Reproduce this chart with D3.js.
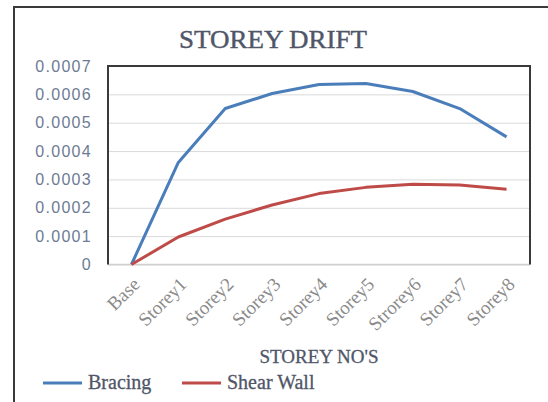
<!DOCTYPE html>
<html>
<head>
<meta charset="utf-8">
<script src="https://cdn.jsdelivr.net/npm/d3@7"></script>
<style>
body { margin: 0; background: #fff; }
svg { display: block; }
</style>
</head>
<body>
<svg id="chart" width="548" height="402"></svg>
<script>
// data
var storeys = ["Base", "Storey1", "Storey2", "Storey3", "Storey4", "Storey5", "Strorey6", "Storey7", "Storey8"];
var bracing = [0, 0.00036, 0.00055, 0.000603, 0.000635, 0.000638, 0.00061, 0.00055, 0.00045];
var shearWall = [0, 0.000097, 0.00016, 0.00021, 0.00025, 0.000272, 0.000283, 0.00028, 0.000265];
var yTicks = [0, 0.0001, 0.0002, 0.0003, 0.0004, 0.0005, 0.0006, 0.0007];

function DrawChart(){
	var svg = d3.select("#chart");
	var pLeft = 108, pRight = 530, pTop = 66, pBottom = 264.5;

	var x = d3.scalePoint().domain(storeys).range([pLeft, pRight]).padding(0.5);
	var y = d3.scaleLinear().domain([0, 0.0007]).range([pBottom, pTop]);

	// outer chart border (runs off the right and bottom)
	svg.append("rect").attr("x", 14).attr("y", 7).attr("width", 600).attr("height", 500)
		.attr("fill", "none").attr("stroke", "#3a3a3a").attr("stroke-width", 2);

	// title
	svg.append("text").attr("x", 273).attr("y", 48).attr("text-anchor", "middle")
		.attr("font-family", "Liberation Serif").attr("font-size", 25).attr("fill", "#4f5668")
		.attr("stroke", "#4f5668").attr("stroke-width", 0.4)
		.attr("textLength", 188).attr("lengthAdjust", "spacingAndGlyphs")
		.text("STOREY DRIFT");

	// gridlines + y labels
	var yAxis = d3.axisLeft(y).tickValues(yTicks).tickSize(-(pRight - pLeft)).tickPadding(16)
		.tickFormat(function(d){ return d === 0 ? "0" : d3.format(".4f")(d); });
	var gy = svg.append("g").attr("transform", "translate(" + pLeft + ",0)").call(yAxis);
	gy.select(".domain").remove();
	gy.selectAll(".tick line").attr("stroke", "#d9d9d9").attr("stroke-width", 1);
	gy.selectAll(".tick text").attr("font-family", "Liberation Sans").attr("font-size", 16)
		.attr("letter-spacing", 1.3).attr("fill", "#6d7b94");

	// plot frame: dark left/top/right, light baseline
	svg.append("line").attr("x1", pLeft).attr("x2", pRight).attr("y1", pBottom).attr("y2", pBottom)
		.attr("stroke", "#d0d0d0").attr("stroke-width", 1.5);
	svg.append("path").attr("d", "M" + pLeft + "," + pBottom + "V" + pTop + "H" + pRight + "V" + pBottom)
		.attr("fill", "none").attr("stroke", "#3a3a3a").attr("stroke-width", 2);

	// category labels
	var xAxis = d3.axisBottom(x).tickSize(0).tickPadding(0);
	var gx = svg.append("g").attr("transform", "translate(0," + pBottom + ")").call(xAxis);
	gx.select(".domain").remove();
	gx.selectAll(".tick text")
		.attr("font-family", "Liberation Serif").attr("font-size", 19).attr("fill", "#8a8a8a")
		.attr("text-anchor", "end").attr("dy", null).attr("y", null)
		.attr("transform", "translate(9,21) rotate(-45)");

	// x axis title
	svg.append("text").attr("x", 319).attr("y", 363).attr("text-anchor", "middle")
		.attr("font-family", "Liberation Serif").attr("font-size", 19).attr("fill", "#4f5668")
		.attr("stroke", "#4f5668").attr("stroke-width", 0.3)
		.text("STOREY NO'S");

	// series
	var series = [
		{ name: "Bracing", values: bracing, color: "#4a7ebb" },
		{ name: "Shear Wall", values: shearWall, color: "#be4b48" }
	];
	var line = d3.line()
		.x(function(d, i){ return x(storeys[i]); })
		.y(function(d){ return y(d); });
	series.forEach(function(s){
		svg.append("path").datum(s.values).attr("d", line)
			.attr("fill", "none").attr("stroke", s.color).attr("stroke-width", 3)
			.attr("stroke-linejoin", "round");
	});

	// legend
	var legendX = [43, 182];
	series.forEach(function(s, i){
		var g = svg.append("g").attr("transform", "translate(" + legendX[i] + ",383)");
		g.append("line").attr("x1", 0).attr("x2", 39).attr("stroke", s.color).attr("stroke-width", 3);
		g.append("text").attr("x", 45).attr("y", 6)
			.attr("font-family", "Liberation Serif").attr("font-size", 20).attr("fill", "#4f5668")
			.attr("stroke", "#4f5668").attr("stroke-width", 0.3)
			.text(s.name);
	});
}

DrawChart();
</script>
</body>
</html>
